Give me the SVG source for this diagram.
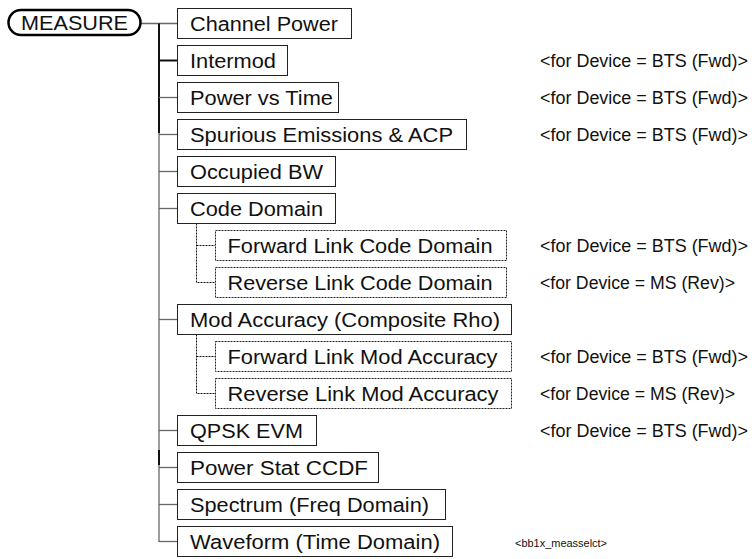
<svg xmlns="http://www.w3.org/2000/svg" width="756" height="559" viewBox="0 0 756 559">
<style>
  text { font-family: "Liberation Sans", Arial, sans-serif; fill: #111; }
  .bt { font-size: 20px; }
  .lb { font-size: 18px; }
  .box { fill: #fff; stroke: #222; stroke-width: 1; }
  .dbox { fill: #fff; stroke: #222; stroke-width: 1; stroke-dasharray: 2 1; }
  .ln { stroke: #666; stroke-width: 1.3; fill: none; }
  .lk { stroke: #111; stroke-width: 2; fill: none; }
  .dl { stroke: #111; stroke-width: 1; stroke-dasharray: 2 1; fill: none; }
</style>
<rect width="756" height="559" fill="#fff"/>
<g id="connectors">
  <line class="ln" x1="141" y1="23.5" x2="177" y2="23.5"/>
  <line class="lk" x1="159" y1="23.5" x2="159" y2="133"/>
  <line class="ln" x1="159" y1="133" x2="159" y2="541.5"/>
  <line class="lk" x1="159" y1="450" x2="159" y2="465"/>
  <line class="lk" x1="159" y1="60.5" x2="177" y2="60.5"/>
  <line class="ln" x1="159" y1="97.5" x2="177" y2="97.5"/>
  <line class="ln" x1="159" y1="134.5" x2="177" y2="134.5"/>
  <line class="ln" x1="159" y1="171.5" x2="177" y2="171.5"/>
  <line class="ln" x1="159" y1="208.5" x2="177" y2="208.5"/>
  <line class="ln" x1="159" y1="319.5" x2="177" y2="319.5"/>
  <line class="ln" x1="159" y1="430.5" x2="177" y2="430.5"/>
  <line class="ln" x1="159" y1="467.5" x2="177" y2="467.5"/>
  <line class="ln" x1="159" y1="504.5" x2="177" y2="504.5"/>
  <line class="ln" x1="158.4" y1="541.5" x2="177" y2="541.5"/>
  <path class="dl" d="M196.5 223.5 V282.5 H215 M196.5 245.5 H215"/>
  <path class="dl" d="M196.5 334.5 V393.5 H215 M196.5 356.5 H215"/>
</g>
<g id="measure">
  <rect x="8.5" y="10" width="132" height="25" rx="12.5" fill="#fff" stroke="#000" stroke-width="2.5"/>
  <text class="bt" x="21" y="30" textLength="107" lengthAdjust="spacingAndGlyphs">MEASURE</text>
</g>
<g id="channel-power"><rect class="box" x="177.5" y="8.5" width="174" height="30"/><text class="bt" x="190" y="30.5" textLength="148" lengthAdjust="spacingAndGlyphs">Channel Power</text></g>
<g id="intermod"><rect class="box" x="177.5" y="45.5" width="110" height="30"/><text class="bt" x="190" y="67.5" textLength="86" lengthAdjust="spacingAndGlyphs">Intermod</text></g>
<g id="power-vs-time"><rect class="box" x="177.5" y="82.5" width="161" height="30"/><text class="bt" x="190" y="104.5" textLength="143" lengthAdjust="spacingAndGlyphs">Power vs Time</text></g>
<g id="spurious"><rect class="box" x="177.5" y="119.5" width="289" height="30"/><text class="bt" x="190" y="141.5" textLength="263" lengthAdjust="spacingAndGlyphs">Spurious Emissions &amp; ACP</text></g>
<g id="occupied-bw"><rect class="box" x="177.5" y="156.5" width="158" height="30"/><text class="bt" x="190" y="178.5" textLength="133" lengthAdjust="spacingAndGlyphs">Occupied BW</text></g>
<g id="code-domain"><rect class="box" x="177.5" y="193.5" width="158" height="30"/><text class="bt" x="190" y="215.5" textLength="133" lengthAdjust="spacingAndGlyphs">Code Domain</text></g>
<g id="fwd-code-domain"><rect class="dbox" x="215.5" y="230.5" width="291" height="30"/><text class="bt" x="227.5" y="252.5" textLength="265" lengthAdjust="spacingAndGlyphs">Forward Link Code Domain</text></g>
<g id="rev-code-domain"><rect class="dbox" x="215.5" y="267.5" width="291" height="30"/><text class="bt" x="227.5" y="289.5" textLength="265" lengthAdjust="spacingAndGlyphs">Reverse Link Code Domain</text></g>
<g id="mod-accuracy"><rect class="box" x="177.5" y="304.5" width="334" height="30"/><text class="bt" x="190" y="326.5" textLength="310" lengthAdjust="spacingAndGlyphs">Mod Accuracy (Composite Rho)</text></g>
<g id="fwd-mod-accuracy"><rect class="dbox" x="215.5" y="341.5" width="296" height="30"/><text class="bt" x="227.5" y="363.5" textLength="270" lengthAdjust="spacingAndGlyphs">Forward Link Mod Accuracy</text></g>
<g id="rev-mod-accuracy"><rect class="dbox" x="215.5" y="378.5" width="296" height="30"/><text class="bt" x="227.5" y="400.5" textLength="271" lengthAdjust="spacingAndGlyphs">Reverse Link Mod Accuracy</text></g>
<g id="qpsk-evm"><rect class="box" x="177.5" y="415.5" width="139" height="30"/><text class="bt" x="190" y="437.5" textLength="113" lengthAdjust="spacingAndGlyphs">QPSK EVM</text></g>
<g id="power-stat-ccdf"><rect class="box" x="177.5" y="452.5" width="201" height="30"/><text class="bt" x="190" y="474.5" textLength="178" lengthAdjust="spacingAndGlyphs">Power Stat CCDF</text></g>
<g id="spectrum"><rect class="box" x="177.5" y="489.5" width="268" height="30"/><text class="bt" x="190" y="511.5" textLength="239" lengthAdjust="spacingAndGlyphs">Spectrum (Freq Domain)</text></g>
<g id="waveform"><rect class="box" x="177.5" y="526.5" width="275" height="30"/><text class="bt" x="190" y="548.5" textLength="250" lengthAdjust="spacingAndGlyphs">Waveform (Time Domain)</text></g>
<g id="labels">
  <text class="lb" x="540" y="67" textLength="208" lengthAdjust="spacingAndGlyphs">&lt;for Device = BTS (Fwd)&gt;</text>
  <text class="lb" x="540" y="104" textLength="208" lengthAdjust="spacingAndGlyphs">&lt;for Device = BTS (Fwd)&gt;</text>
  <text class="lb" x="540" y="141" textLength="208" lengthAdjust="spacingAndGlyphs">&lt;for Device = BTS (Fwd)&gt;</text>
  <text class="lb" x="540" y="252" textLength="208" lengthAdjust="spacingAndGlyphs">&lt;for Device = BTS (Fwd)&gt;</text>
  <text class="lb" x="540" y="289" textLength="195" lengthAdjust="spacingAndGlyphs">&lt;for Device = MS (Rev)&gt;</text>
  <text class="lb" x="540" y="363" textLength="208" lengthAdjust="spacingAndGlyphs">&lt;for Device = BTS (Fwd)&gt;</text>
  <text class="lb" x="540" y="400" textLength="195" lengthAdjust="spacingAndGlyphs">&lt;for Device = MS (Rev)&gt;</text>
  <text class="lb" x="540" y="437" textLength="208" lengthAdjust="spacingAndGlyphs">&lt;for Device = BTS (Fwd)&gt;</text>
  <text x="515" y="547" font-size="11" textLength="92" lengthAdjust="spacingAndGlyphs">&lt;bb1x_measselct&gt;</text>
</g>
</svg>
